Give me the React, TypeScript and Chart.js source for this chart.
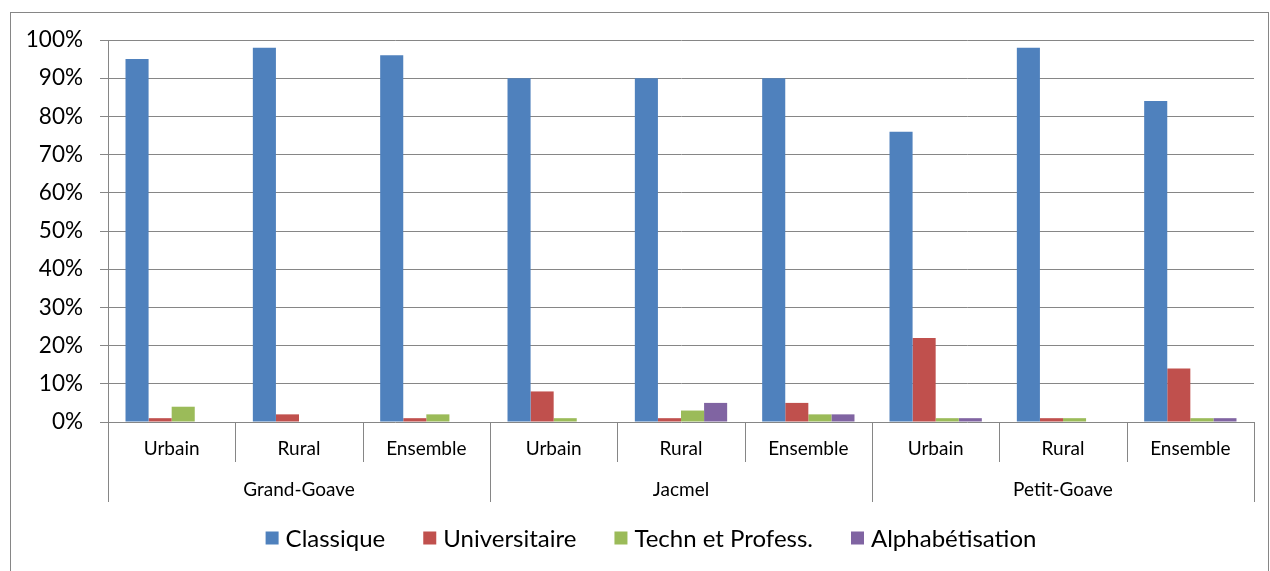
import React, { useEffect, useRef } from "react";
import { Chart, registerables } from "chart.js";

Chart.register(...registerables);

const subCategories = ["Urbain", "Rural", "Ensemble", "Urbain", "Rural", "Ensemble", "Urbain", "Rural", "Ensemble"];
const groups = ["Grand-Goave", "Jacmel", "Petit-Goave"];
const classique = [95, 98, 96, 90, 90, 90, 76, 98, 84];
const universitaire = [1, 2, 1, 8, 1, 5, 22, 1, 14];
const techn = [4, 0, 2, 1, 3, 2, 1, 1, 1];
const alpha = [0, 0, 0, 0, 5, 2, 1, 0, 1];
const seriesNames = ["Classique", "Universitaire", "Techn et Profess.", "Alphabétisation"];
const seriesColors = ["#4F81BD", "#C0504D", "#9BBB59", "#8064A2"];

const FONT = "Lato, 'Open Sans', sans-serif";
const GRID = "#868686";

const decorPlugin = {
  id: "decor",
  afterDraw(chart: any) {
    const ctx = chart.ctx;
    const area = chart.chartArea;
    const n = subCategories.length;
    const w = (area.right - area.left) / n;
    ctx.save();
    // outer frame
    ctx.strokeStyle = GRID;
    ctx.lineWidth = 1;
    ctx.strokeRect(10.5, 12.5, 1258, 620);
    // dividers
    for (let i = 0; i <= n; i++) {
      const x = Math.round(area.left + i * w) + 0.5;
      const end = i % 3 === 0 ? 502 : 462;
      ctx.beginPath();
      ctx.moveTo(x, area.bottom);
      ctx.lineTo(x, end);
      ctx.stroke();
    }
    // group labels
    ctx.fillStyle = "#000";
    ctx.font = `19px ${FONT}`;
    ctx.textAlign = "center";
    ctx.textBaseline = "middle";
    groups.forEach((g, gi) => {
      const cx = area.left + (gi * 3 + 1.5) * w;
      ctx.fillText(g, cx, 490);
    });
    // legend
    ctx.font = `24px ${FONT}`;
    const box = 13;
    const gapText = 7;
    const gapItem = 38;
    const items = chart.data.datasets.map((d: any) => ({
      text: d.label,
      color: d.backgroundColor,
      tw: ctx.measureText(d.label).width,
    }));
    let total = 0;
    items.forEach((it: any, i: number) => {
      total += box + gapText + it.tw + (i < items.length - 1 ? gapItem : 0);
    });
    let x = 651 - total / 2;
    const y = 538;
    ctx.textAlign = "left";
    items.forEach((it: any) => {
      ctx.fillStyle = it.color;
      ctx.fillRect(x, y - box / 2, box, box);
      ctx.fillStyle = "#000";
      ctx.fillText(it.text, x + box + gapText, y + 1);
      x += box + gapText + it.tw + gapItem;
    });
    ctx.restore();
  },
};

export default function App() {
  const ref = useRef<HTMLCanvasElement>(null);
  useEffect(() => {
    if (!ref.current) return;
    const data = [classique, universitaire, techn, alpha];
    const chart = new Chart(ref.current, {
      type: "bar",
      data: {
        labels: subCategories,
        datasets: seriesNames.map((name, i) => ({
          label: name,
          data: data[i],
          backgroundColor: seriesColors[i],
          borderWidth: 0,
          barPercentage: 1,
          categoryPercentage: 0.725,
        })),
      },
      options: {
        animation: false,
        responsive: false,
        layout: { padding: { top: 40, right: 16, bottom: 53, left: 0 } },
        plugins: {
          legend: { display: false },
          tooltip: { enabled: false },
        },
        scales: {
          x: {
            grid: { display: false, drawTicks: false },
            border: { display: false },
            ticks: {
              color: "#000",
              font: { family: FONT, size: 19 },
              padding: 15,
              maxRotation: 0,
              autoSkip: false,
            },
            afterFit(scale: any) {
              scale.height = 96;
            },
          },
          y: {
            min: 0,
            max: 100,
            ticks: {
              stepSize: 10,
              color: "#000",
              font: { family: FONT, size: 22.5 },
              padding: 17,
              callback: (v: any) => v + "%",
            },
            grid: { color: GRID, lineWidth: 1, tickLength: 8 },
            border: { display: true, color: GRID },
            afterFit(scale: any) {
              scale.width = 108;
            },
          },
        },
      },
      plugins: [decorPlugin],
    });
    return () => chart.destroy();
  }, []);
  return (
    <div style={{ position: "absolute", left: 0, top: 0, width: 1270, height: 571, background: "#fff" }}>
      <canvas ref={ref} width={1270} height={571} />
    </div>
  );
}
